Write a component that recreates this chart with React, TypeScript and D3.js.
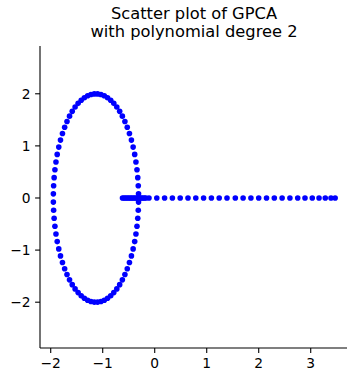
import React from "react";
import * as d3 from "d3";

// ellipse points (x, y)
const ringPoints: [number, number][] = [
  [-0.311, 0.079], [-0.316, 0.235], [-0.326, 0.39], [-0.341, 0.543], [-0.361, 0.692],
  [-0.385, 0.837], [-0.415, 0.977], [-0.448, 1.111], [-0.486, 1.238], [-0.528, 1.358],
  [-0.573, 1.469], [-0.622, 1.571], [-0.674, 1.663], [-0.729, 1.745], [-0.787, 1.816],
  [-0.846, 1.876], [-0.907, 1.925], [-0.97, 1.962], [-1.034, 1.986], [-1.098, 1.998],
  [-1.162, 1.998], [-1.226, 1.986], [-1.29, 1.962], [-1.353, 1.925], [-1.414, 1.876],
  [-1.473, 1.816], [-1.531, 1.745], [-1.586, 1.663], [-1.638, 1.571], [-1.687, 1.469],
  [-1.732, 1.358], [-1.774, 1.238], [-1.812, 1.111], [-1.845, 0.977], [-1.875, 0.837],
  [-1.899, 0.692], [-1.919, 0.543], [-1.934, 0.39], [-1.944, 0.235], [-1.949, 0.079],
  [-1.949, -0.079], [-1.944, -0.235], [-1.934, -0.39], [-1.919, -0.543], [-1.899, -0.692],
  [-1.875, -0.837], [-1.845, -0.977], [-1.812, -1.111], [-1.774, -1.238], [-1.732, -1.358],
  [-1.687, -1.469], [-1.638, -1.571], [-1.586, -1.663], [-1.531, -1.745], [-1.473, -1.816],
  [-1.414, -1.876], [-1.353, -1.925], [-1.29, -1.962], [-1.226, -1.986], [-1.162, -1.998],
  [-1.098, -1.998], [-1.034, -1.986], [-0.97, -1.962], [-0.907, -1.925], [-0.846, -1.876],
  [-0.787, -1.816], [-0.729, -1.745], [-0.674, -1.663], [-0.622, -1.571], [-0.573, -1.469],
  [-0.528, -1.358], [-0.486, -1.238], [-0.448, -1.111], [-0.415, -0.977], [-0.385, -0.837],
  [-0.361, -0.692], [-0.341, -0.543], [-0.326, -0.39], [-0.316, -0.235], [-0.311, -0.079],
];

// points on the horizontal line (y = 0)
const lineX = [
  -0.62, -0.59, -0.56, -0.53, -0.5, -0.47, -0.44, -0.41, -0.38, -0.35, -0.32, -0.29,
  -0.26, -0.23, -0.2, -0.17, -0.11, 0.04, 0.19, 0.34, 0.49, 0.64, 0.79, 0.94, 1.09,
  1.24, 1.39, 1.55, 1.7, 1.85, 2.0, 2.15, 2.3, 2.45, 2.6, 2.75, 2.89, 3.03, 3.16,
  3.28, 3.39, 3.47,
];

const xTicks = [-2, -1, 0, 1, 2, 3];
const yTicks = [-2, -1, 0, 1, 2];

const fmt = (v: number) => (v < 0 ? "\u2212" + Math.abs(v) : String(v));

export default function App() {
  const width = 347;
  const height = 377;
  const left = 40;
  const right = 348;
  const top = 46;
  const bottom = 348;

  const x = d3.scaleLinear().domain([-2.206, 3.717]).range([left, right]);
  const y = d3.scaleLinear().domain([-2.879, 2.917]).range([bottom, top]);

  const points: [number, number][] = [...ringPoints, ...lineX.map((v) => [v, 0] as [number, number])];

  const font = "'DejaVu Sans', sans-serif";

  return (
    <svg
      width={width}
      height={height}
      style={{ position: "absolute", left: 0, top: 0, background: "white" }}
      fontFamily={font}
    >
      <text x={194} y={19} textAnchor="middle" fontSize={16.3}>
        Scatter plot of GPCA
      </text>
      <text x={194} y={37} textAnchor="middle" fontSize={16.3}>
        with polynomial degree 2
      </text>

      {points.map(([px, py], i) => (
        <circle key={i} cx={x(px)} cy={y(py)} r={2.8} fill="#0000ff" />
      ))}

      {/* spines */}
      <line x1={left} x2={left} y1={top} y2={bottom} stroke="black" strokeWidth={1.1} />
      <line x1={left} x2={right} y1={bottom} y2={bottom} stroke="black" strokeWidth={1.1} />

      {xTicks.map((t) => (
        <g key={t} transform={`translate(${x(t)},${bottom})`}>
          <line y1={0} y2={4.9} stroke="black" strokeWidth={1.1} />
          <text y={19.5} textAnchor="middle" fontSize={13.8}>
            {fmt(t)}
          </text>
        </g>
      ))}
      {yTicks.map((t) => (
        <g key={t} transform={`translate(${left},${y(t)})`}>
          <line x1={0} x2={-4.9} stroke="black" strokeWidth={1.1} />
          <text x={-9.5} dy="0.36em" textAnchor="end" fontSize={13.8}>
            {fmt(t)}
          </text>
        </g>
      ))}
    </svg>
  );
}
